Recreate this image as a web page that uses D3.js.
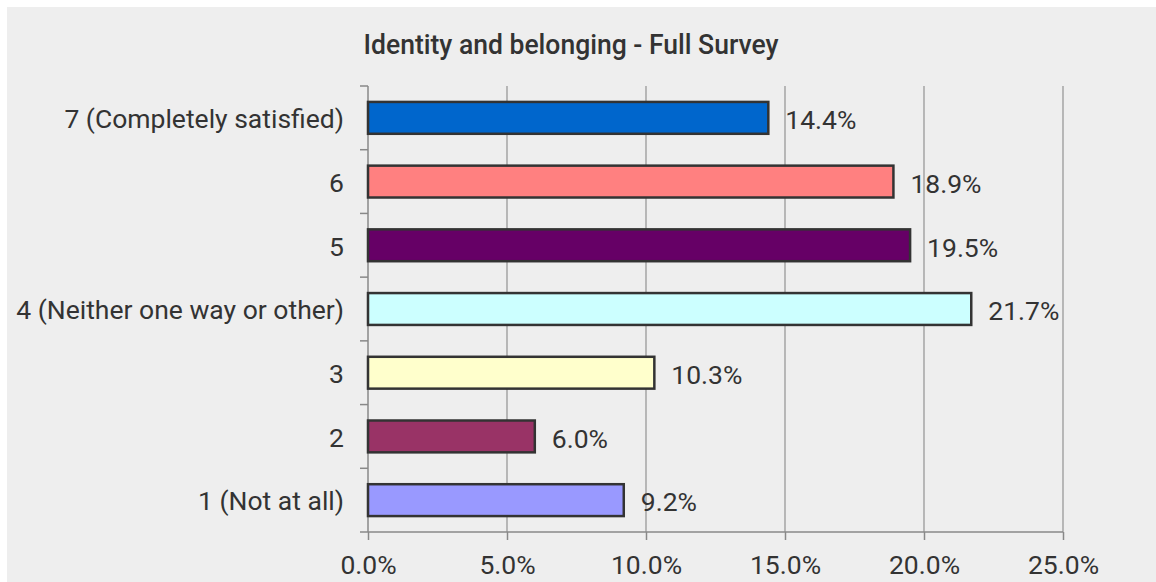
<!DOCTYPE html>
<html>
<head>
<meta charset="utf-8">
<script src="https://cdn.jsdelivr.net/npm/d3@7"></script>
<style>
  body { margin: 0; background: #fff; }
  text { font-family: Roboto, "Liberation Sans", sans-serif; fill: #333; }
</style>
</head>
<body>
<div class="chart"></div>
<script>
// survey categories, top to bottom
var categories = ["7 (Completely satisfied)", "6", "5", "4 (Neither one way or other)", "3", "2", "1 (Not at all)"];
var percents = [14.4, 18.9, 19.5, 21.7, 10.3, 6.0, 9.2];
var barColors = ["#0066cc", "#ff8080", "#660066", "#ccffff", "#ffffcc", "#993366", "#9999ff"];
var xTicks = [0, 5, 10, 15, 20, 25];

(function() {

var width = 1156,
    height = 582;

var svg = d3.select(".chart").append("svg")
    .attr("width", width)
    .attr("height", height);

// grey panel
svg.append("rect")
    .attr("x", 7).attr("y", 7)
    .attr("width", width - 7).attr("height", height - 7)
    .attr("fill", "#eeeeee");

svg.append("text")
    .attr("x", 571)
    .attr("y", 54)
    .attr("text-anchor", "middle")
    .attr("textLength", 415)
    .attr("lengthAdjust", "spacingAndGlyphs")
    .style("font-size", "28px")
    .style("font-weight", 500)
    .text("Identity and belonging - Full Survey");

var plotLeft = 368, plotRight = 1063, plotTop = 86, plotBottom = 532;

var x = d3.scaleLinear().domain([0, 25]).range([plotLeft, plotRight]);
var y = d3.scaleBand().domain(categories).range([plotTop, plotBottom]).paddingInner(0.5).paddingOuter(0.25);
var band = d3.scaleBand().domain(categories).range([plotTop, plotBottom]);

// vertical gridlines
svg.selectAll("line.grid")
    .data(xTicks.slice(1))
  .enter().append("line")
    .attr("class", "grid")
    .attr("x1", function(d) { return x(d); })
    .attr("x2", function(d) { return x(d); })
    .attr("y1", plotTop)
    .attr("y2", plotBottom)
    .attr("stroke", "#999")
    .attr("stroke-width", 1.3);

// x axis
var xAxis = svg.append("g")
    .attr("transform", "translate(0," + plotBottom + ")")
    .call(d3.axisBottom(x).tickValues(xTicks)
      .tickFormat(function(d) { return d.toFixed(1) + "%"; })
      .tickSize(8).tickSizeOuter(0).tickPadding(15));
xAxis.select(".domain").attr("stroke", "#888").attr("stroke-width", 1.5)
    .attr("d", "M" + (plotLeft - 8) + ",0H" + plotRight);
xAxis.selectAll(".tick line").attr("stroke", "#888").attr("stroke-width", 1.5);
xAxis.selectAll(".tick text").style("font-size", "26.5px").attr("fill", "#333");

// y axis line and ticks at band edges
svg.append("line")
    .attr("x1", plotLeft).attr("x2", plotLeft)
    .attr("y1", plotTop).attr("y2", plotBottom)
    .attr("stroke", "#888").attr("stroke-width", 1.5);
svg.selectAll("line.ytick")
    .data(categories)
  .enter().append("line")
    .attr("class", "ytick")
    .attr("x1", plotLeft - 8).attr("x2", plotLeft)
    .attr("y1", function(d) { return band(d); })
    .attr("y2", function(d) { return band(d); })
    .attr("stroke", "#888").attr("stroke-width", 1.5);

svg.selectAll("text.cat")
    .data(categories)
  .enter().append("text")
    .attr("class", "cat")
    .attr("x", plotLeft - 24)
    .attr("y", function(d) { return band(d) + band.bandwidth() / 2 + 1; })
    .attr("dy", "0.35em")
    .attr("text-anchor", "end")
    .style("font-size", "26.5px")
    .text(function(d) { return d; });

// bars
svg.selectAll("rect.bar")
    .data(percents)
  .enter().append("rect")
    .attr("class", "bar")
    .attr("x", plotLeft)
    .attr("y", function(d, i) { return y(categories[i]); })
    .attr("width", function(d) { return x(d) - plotLeft; })
    .attr("height", y.bandwidth())
    .attr("fill", function(d, i) { return barColors[i]; })
    .attr("stroke", "#333")
    .attr("stroke-width", 2.5);

svg.selectAll("text.val")
    .data(percents)
  .enter().append("text")
    .attr("class", "val")
    .attr("x", function(d) { return x(d) + 17; })
    .attr("y", function(d, i) { return band(categories[i]) + band.bandwidth() / 2 + 2; })
    .attr("dy", "0.35em")
    .style("font-size", "26.5px")
    .text(function(d) { return d.toFixed(1) + "%"; });

})();
</script>
</body>
</html>
